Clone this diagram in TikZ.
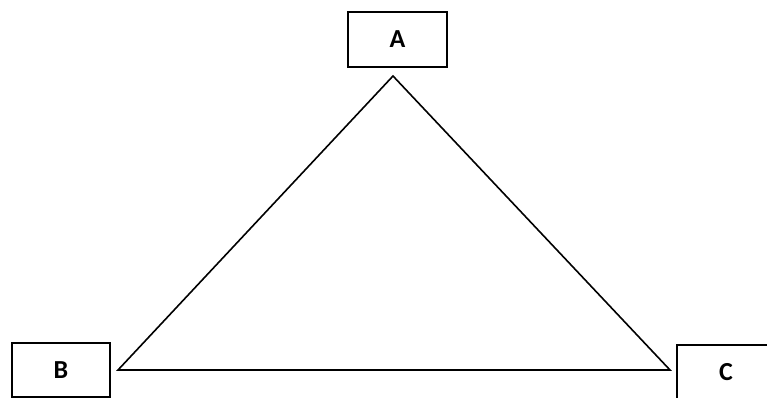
\documentclass[tikz,border=0pt]{standalone}
\usepackage{fontspec}
\setmainfont{Carlito}
\begin{document}
\begin{tikzpicture}[x=1pt,y=-1pt,
  labelbox/.style={draw=black, line width=2pt, font=\bfseries\fontsize{26}{30}\selectfont, inner sep=0pt},
  edge/.style={draw=black, line width=1.6pt, line join=miter}]
\useasboundingbox (0,0) rectangle (767,398);
\clip (0,0) rectangle (767,398);
\fill[white] (0,0) rectangle (767,398);
\node[labelbox, minimum width=99pt, minimum height=55pt] (A) at (397.5,39.5) {A};
\node[labelbox, minimum width=98pt, minimum height=54pt] (B) at (61,370) {B};
\node[labelbox, minimum width=98pt, minimum height=54pt] (C) at (726,372) {C};
\coordinate (pa) at (393,76);
\coordinate (pb) at (118,370);
\coordinate (pc) at (670,370);
\draw[edge] (pa) -- (pb) -- (pc) -- cycle;
\end{tikzpicture}
\end{document}
